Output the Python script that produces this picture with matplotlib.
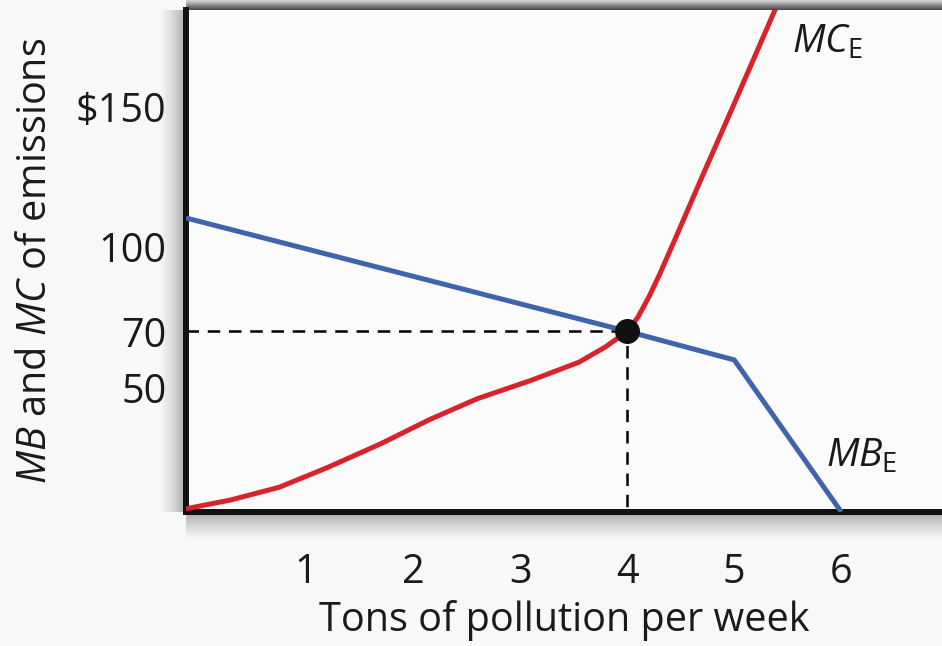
import matplotlib
matplotlib.use("Agg")
import numpy as np
import matplotlib.pyplot as plt

# data
mb_x = [-0.12, 4, 5, 6]
mb_y = [110.3, 70, 59.8, 5.7]

mc_x = [-0.1, 0.3, 0.75, 1.2, 1.7, 2.15, 2.6, 3.1, 3.55, 3.8, 4.0, 4.1, 4.2, 4.3, 4.45, 4.7, 5.0, 5.38]
mc_y = [7, 10, 14.5, 21.5, 30, 38.5, 46, 52.5, 59, 64.5, 70, 75, 82, 90, 103, 125, 151, 184.3]

eq_x, eq_y = 4, 70
x_ticks = [1, 2, 3, 4, 5, 6]
y_ticks = [50, 70, 100, 150]
y_tick_labels = ["50", "70", "100", "$150"]

plt.rcParams["font.family"] = ["Open Sans", "DejaVu Sans"]
plt.rcParams["mathtext.fontset"] = "custom"
plt.rcParams["mathtext.it"] = "Open Sans:italic"
plt.rcParams["mathtext.rm"] = "Open Sans"

W, H = 942, 646
fig = plt.figure(figsize=(W / 100, H / 100), dpi=100, facecolor="#f8f8f8")

# soft shadows round the frame
grad = np.linspace(0, 1, 50).reshape(1, -1)
sh = fig.add_axes([160 / W, 1 - 512 / H, 26 / W, (512 - 10) / H])
sh.imshow(grad, cmap="Greys", vmin=-0.2, vmax=2.5, aspect="auto")
sh.axis("off")
sh = fig.add_axes([186 / W, 1 - 540 / H, 1 - 186 / W, 28 / H])
sh.imshow(grad.T[::-1], cmap="Greys", vmin=-0.2, vmax=2.5, aspect="auto")
sh.axis("off")
sh = fig.add_axes([186 / W, 1 - 10 / H, 1 - 186 / W, 10 / H])
sh.imshow(grad.T, cmap="Greys", vmin=-0.5, vmax=1.4, aspect="auto")
sh.axis("off")

ax = fig.add_axes([186 / W, 1 - 512 / H, 1 - 186 / W, (512 - 10) / H])
ax.set_facecolor("#fbfbfb")

ax.plot(mb_x, mb_y, color="#3d64ac", lw=3.6, solid_capstyle="butt", zorder=3)
ax.plot(mc_x, mc_y, color="#d8232a", lw=3.6, solid_joinstyle="round", zorder=4)

# dashed guides to the equilibrium
ax.plot([-0.12, eq_x], [eq_y, eq_y], color="black", lw=1.8, dashes=(5, 3.5), zorder=2)
ax.plot([eq_x, eq_x], [0, eq_y], color="black", lw=1.8, dashes=(5, 3.5), zorder=2)
ax.plot([eq_x], [eq_y], "o", color="#111111", ms=17, zorder=5)

ax.text(5.54, 169, r"$MC_{\mathrm{E}}$", fontsize=28, color="#1a1a1a")
ax.text(5.86, 21.7, r"$MB_{\mathrm{E}}$", fontsize=28, color="#1a1a1a")

ax.set_xlim(-0.12, 6.94)
ax.set_ylim(5.7, 184.3)
ax.set_xticks(x_ticks)
ax.set_xticklabels([str(t) for t in x_ticks])
ax.set_yticks(y_ticks)
ax.set_yticklabels(y_tick_labels)
ax.tick_params(length=0, labelsize=28.5, colors="#1a1a1a")
ax.tick_params(axis="x", pad=29)
ax.tick_params(axis="y", pad=14)

ax.set_xlabel("Tons of pollution per week", fontsize=28.5, color="#1a1a1a", labelpad=5)
ax.set_ylabel(r"$MB$ and $MC$ of emissions", fontsize=28.5, color="#1a1a1a", labelpad=14)

for s in ["left", "bottom"]:
    ax.spines[s].set_linewidth(4.3)
    ax.spines[s].set_color("#111111")
ax.spines["right"].set_visible(False)
ax.spines["top"].set_visible(False)

fig.savefig("out.png", dpi=100, facecolor=fig.get_facecolor())
